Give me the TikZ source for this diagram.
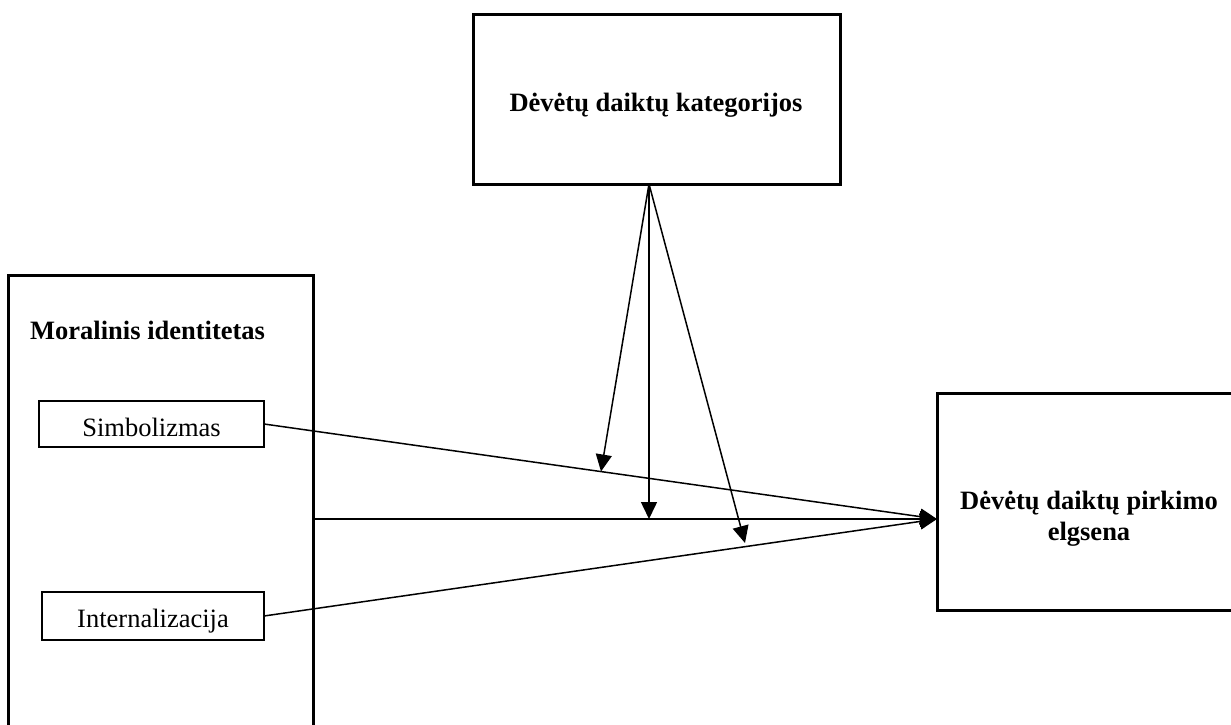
\documentclass[tikz,border=0pt]{standalone}
\usepackage{fontspec}
\setmainfont{Liberation Serif}
\usetikzlibrary{arrows.meta}

\tikzset{
  bigbox/.style={draw, line width=3pt, inner sep=0pt, outer sep=0pt, anchor=north west},
  smallbox/.style={draw, line width=1.4pt, inner sep=0pt, outer sep=0pt, anchor=north west},
  boldlabel/.style={font=\fontsize{26.5}{31}\selectfont\bfseries, inner sep=0pt},
  plainlabel/.style={font=\fontsize{26.5}{31}\selectfont, inner sep=0pt},
  link/.style={line width=1.5pt, -{Triangle[length=17pt,width=16pt]}}
}

\begin{document}
\begin{tikzpicture}[x=1pt, y=-1pt]
  \useasboundingbox (0,0) rectangle (1231,725);

  % category box (moderator)
  \node[bigbox, minimum width=367pt, minimum height=169pt] (cat) at (473,15) {};
  \node[boldlabel, anchor=base] (cattxt) at (656,111) {Dėvėtų daiktų kategorijos};

  % moral identity box with its two dimensions
  \node[bigbox, minimum width=305pt, minimum height=470pt] (mor) at (8,275) {};
  \node[boldlabel, anchor=base west] (mortxt) at (30,339) {Moralinis identitetas};

  \node[smallbox, minimum width=225pt, minimum height=46pt] (sim) at (39,401) {};
  \node[plainlabel, anchor=base] (simtxt) at (151.5,436) {Simbolizmas};

  \node[smallbox, minimum width=222pt, minimum height=48pt] (int) at (42,592) {};
  \node[plainlabel, anchor=base] (inttxt) at (153,627) {Internalizacija};

  % outcome box
  \node[bigbox, minimum width=305pt, minimum height=217pt] (buy) at (937,393) {};
  \node[boldlabel, anchor=base] (buytxt1) at (1089,509) {Dėvėtų daiktų pirkimo};
  \node[boldlabel, anchor=base] (buytxt2) at (1089,540) {elgsena};

  % connection points
  \coordinate (target) at (937,519);
  \coordinate (src) at (649,184);
  \coordinate (hitA) at (601,471.5);
  \coordinate (hitB) at (649,519);
  \coordinate (hitC) at (745,543);

  % direct effects
  \draw[link] (sim.east) -- (target);
  \draw[link] (target -| mor.east) -- (target);
  \draw[link] (int.east) -- (target);

  % moderating effects
  \draw[link] (src) -- (hitA);
  \draw[link] (src) -- (hitB);
  \draw[link] (src) -- (hitC);
\end{tikzpicture}
\end{document}
